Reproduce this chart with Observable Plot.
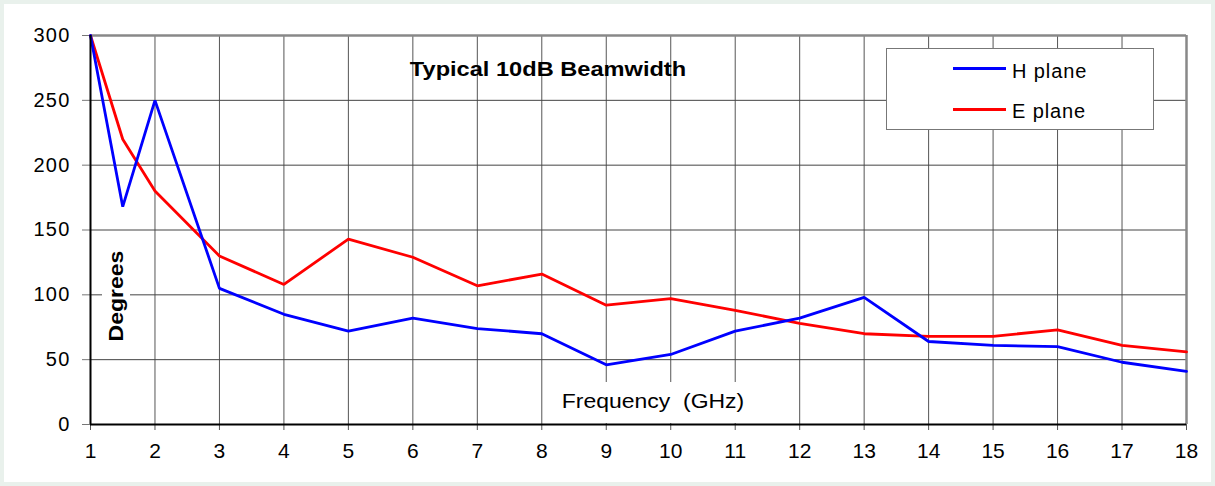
<!DOCTYPE html>
<html>
<head>
<meta charset="utf-8">
<script src="https://cdn.jsdelivr.net/npm/d3@7"></script>
<script src="https://cdn.jsdelivr.net/npm/@observablehq/plot@0.6"></script>
<style>
  html, body { margin: 0; padding: 0; background: #ffffff; }
  #wrap { position: relative; width: 1215px; height: 486px; overflow: hidden;
          font-family: "Liberation Sans", Arial, sans-serif; }
  #border { position: absolute; left: 0; top: 0; width: 1215px; height: 486px;
            box-sizing: border-box; border: 4px solid #e9f1ec; background: #fff; }
  #chart { position: absolute; left: 0; top: 0; }
  .ov { position: absolute; color: #000; white-space: pre; }
  #title { left: 548px; top: 69px; transform: translate(-50%, -50%) scaleX(1.18); font-weight: bold; font-size: 20px; }
  #xlab { left: 555px; top: 382px; width: 198px; height: 41px; background: #fff; }
  #xlab span { position: absolute; left: 98px; top: 19px; transform: translate(-50%, -50%) scaleX(1.093);
               font-size: 21px; }
  #ylab { left: 102px; top: 246px; width: 28px; height: 100px; background: #fff; }
  #ylab span { position: absolute; left: 50%; top: 50%; transform: translate(-50%, -50%) rotate(-90deg) scaleX(1.15);
               font-weight: bold; font-size: 20px; }
  #legend { left: 886px; top: 48px; width: 268px; height: 82px; box-sizing: border-box;
            border: 1px solid #777; background: #fff; }
  .lline { position: absolute; left: 66px; width: 53px; height: 3px; }
  .ltext { position: absolute; left: 125px; font-size: 20px; height: 24px; line-height: 24px; letter-spacing: 0.9px; }
</style>
</head>
<body>
<div id="wrap">
  <div id="border"></div>
  <div id="chart"></div>
  <div id="title" class="ov">Typical 10dB Beamwidth</div>
  <div id="xlab" class="ov"><span>Frequency  (GHz)</span></div>
  <div id="ylab" class="ov"><span>Degrees</span></div>
  <div id="legend" class="ov"></div>
</div>
<script>
const frequency = [1, 1.5, 2, 3, 4, 5, 6, 7, 8, 9, 10, 11, 12, 13, 14, 15, 16, 17, 18];
const hPlane = [300, 168, 250, 105, 85, 72, 82, 74, 70, 46, 54, 72, 82, 98, 64, 61, 60, 48, 41];
const ePlane = [300, 220, 180, 130, 108, 143, 129, 107, 116, 92, 97, 88, 78, 70, 68, 68, 73, 61, 56];
const seriesNames = ["H plane", "E plane"];
const seriesColors = ["#0000ff", "#ff0000"];
const xTicks = [1, 2, 3, 4, 5, 6, 7, 8, 9, 10, 11, 12, 13, 14, 15, 16, 17, 18];
const yTicks = [0, 50, 100, 150, 200, 250, 300];

// E plane drawn first so H plane sits on top
const rows = [];
frequency.forEach((f, i) => rows.push({freq: f, deg: ePlane[i], series: seriesNames[1]}));
frequency.forEach((f, i) => rows.push({freq: f, deg: hPlane[i], series: seriesNames[0]}));

const chart = Plot.plot({
  width: 1215,
  height: 486,
  marginLeft: 90,
  marginRight: 29,
  marginTop: 35,
  marginBottom: 62,
  style: {background: "transparent", fontFamily: "Liberation Sans, Arial, sans-serif", color: "#000"},
  x: {domain: [1, 18], ticks: xTicks},
  y: {domain: [0, 300], ticks: yTicks},
  color: {domain: seriesNames, range: seriesColors},
  marks: [
    Plot.gridX(xTicks, {stroke: "#555", strokeOpacity: 1, strokeWidth: 1}),
    Plot.gridY(yTicks, {stroke: "#444", strokeOpacity: 1, strokeWidth: 1}),
    Plot.ruleY([300], {stroke: "#888", strokeWidth: 2.5}),
    Plot.ruleX([18], {stroke: "#888", strokeWidth: 2.5}),
    Plot.axisX({ticks: xTicks, tickSize: 6, tickPadding: 13, label: null, stroke: "#555", fontSize: 21, fill: "#000"}),
    Plot.axisY({ticks: yTicks, tickSize: 8, tickPadding: 12, label: null, stroke: "#777", fontSize: 20, fill: "#000"}),
    Plot.line(rows, {x: "freq", y: "deg", z: "series", stroke: "series", strokeWidth: 2.8, strokeLinejoin: "miter"}),
    Plot.ruleX([1], {stroke: "#000", strokeWidth: 2}),
    Plot.ruleY([0], {stroke: "#000", strokeWidth: 2})
  ]
});
document.getElementById("chart").appendChild(chart);
// enforce tick label sizes; widen y labels slightly like the reference
chart.querySelectorAll("g[aria-label='x-axis tick label'] text").forEach(t => {
  t.style.fontSize = "21px";
});
chart.querySelectorAll("g[aria-label='y-axis tick label'] text").forEach(t => {
  t.style.fontSize = "20px";
  t.setAttribute("letter-spacing", "1.2");
});

const legend = document.getElementById("legend");
const lineTops = [18, 59];
const textTops = [9.6, 49.9];
seriesNames.forEach((name, i) => {
  const l = document.createElement("div");
  l.className = "lline";
  l.style.top = lineTops[i] + "px";
  l.style.background = seriesColors[i];
  legend.appendChild(l);
  const t = document.createElement("div");
  t.className = "ltext";
  t.style.top = textTops[i] + "px";
  t.textContent = name;
  legend.appendChild(t);
});
</script>
</body>
</html>
